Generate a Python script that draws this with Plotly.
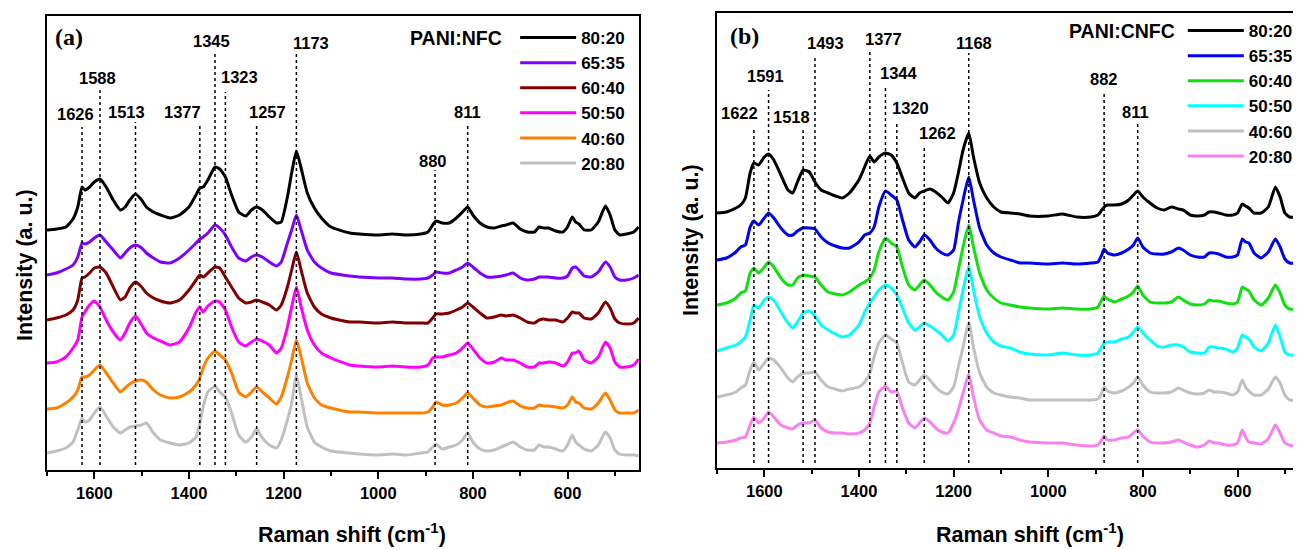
import plotly.graph_objects as go

W, H = 1301, 550
OFF = 8  # page body margin offset of the rendered figure (px)
FONT = "Liberation Sans, Arial, sans-serif"
SERIF = "Liberation Serif, Times New Roman, serif"

# ---------------- data ----------------
ratios = ["80:20", "65:35", "60:40", "50:50", "40:60", "20:80"]

# Panel (a) PANI:NFC  -- Raman shift (cm-1) and stacked intensities (a.u.)
xa = [1700, 1680, 1660, 1645, 1635, 1626, 1620, 1610, 1600, 1588, 1575, 1560, 1545, 1535, 1525,
      1513, 1500, 1490, 1475, 1460, 1440, 1420, 1400, 1385, 1377, 1370, 1360, 1345, 1335, 1323,
      1310, 1295, 1280, 1268, 1257, 1245, 1230, 1215, 1205, 1192, 1183, 1173, 1163, 1150, 1135,
      1120, 1100, 1060, 1040, 1000, 970, 940, 910, 895, 885, 878, 865, 850, 835, 822,
      811, 800, 785, 770, 755, 740, 730, 715, 700, 685, 670, 660, 650, 640, 625,
      610, 600, 590, 583, 576, 565, 550, 535, 520, 510, 500, 490, 475, 460, 450]

a_80_20 = [240, 241, 243, 251, 263, 283, 280, 283, 288, 291, 283, 270, 260, 263, 270,
           276, 270, 263, 258, 255, 252, 255, 263, 275, 282, 283, 290, 303, 301, 293,
           275, 258, 254, 260, 263, 260, 253, 247, 248, 273, 297, 319, 302, 277, 262,
           252, 243, 237, 236, 235, 236, 235, 236, 238, 245, 249, 247, 247, 252, 258,
           263, 255, 247, 243, 242, 244, 245, 247, 241, 238, 238, 243, 242, 242, 239,
           238, 243, 253, 248, 246, 240, 240, 248, 264, 255, 240, 235, 236, 238, 243]
a_65_35 = [195, 197, 201, 205, 213, 227, 226, 228, 232, 235, 228, 220, 212, 217, 222,
           225, 222, 217, 212, 208, 207, 212, 220, 227, 231, 233, 237, 245, 242, 235,
           223, 212, 209, 213, 215, 213, 208, 204, 208, 227, 240, 255, 240, 220, 208,
           202, 197, 194, 193, 192, 192, 191, 191, 192, 195, 198, 197, 197, 200, 203,
           207, 203, 197, 193, 193, 194, 195, 197, 192, 190, 191, 193, 193, 193, 192,
           192, 194, 202, 203, 200, 194, 193, 198, 208, 203, 193, 190, 190, 192, 195]
a_60_40 = [150, 152, 155, 160, 170, 192, 193, 197, 202, 203, 197, 183, 170, 173, 182,
           188, 183, 177, 172, 169, 167, 170, 180, 190, 195, 193, 197, 203, 202, 193,
           183, 172, 167, 168, 170, 168, 165, 160, 165, 183, 200, 218, 200, 177, 163,
           156, 152, 148, 148, 147, 148, 147, 147, 147, 152, 156, 156, 157, 160, 163,
           167, 163, 157, 152, 153, 155, 154, 155, 152, 148, 147, 150, 151, 150, 150,
           148, 152, 158, 157, 157, 152, 151, 157, 168, 162, 151, 147, 146, 147, 152]
a_50_50 = [107, 108, 113, 122, 130, 153, 158, 165, 169, 163, 150, 138, 130, 137, 147,
           154, 145, 137, 132, 129, 125, 128, 142, 158, 163, 158, 164, 169, 168, 160,
           143, 128, 124, 128, 131, 129, 125, 117, 122, 143, 163, 183, 163, 140, 125,
           117, 112, 105, 104, 103, 104, 103, 103, 105, 112, 113, 113, 115, 117, 122,
           127, 121, 112, 107, 108, 112, 110, 110, 107, 103, 103, 107, 107, 108, 107,
           104, 108, 117, 117, 119, 110, 107, 113, 128, 122, 108, 103, 103, 105, 111]
a_40_60 = [61, 62, 67, 73, 80, 93, 93, 95, 100, 105, 97, 87, 78, 82, 86,
           89, 90, 88, 80, 75, 72, 73, 78, 85, 92, 102, 112, 119, 115, 110,
           97, 78, 73, 78, 83, 78, 72, 66, 73, 93, 110, 130, 113, 87, 72,
           65, 62, 58, 58, 57, 57, 57, 57, 58, 63, 68, 65, 65, 67, 72,
           77, 72, 65, 63, 64, 65, 67, 69, 64, 62, 62, 65, 64, 64, 63,
           62, 65, 73, 68, 67, 62, 61, 67, 77, 70, 60, 57, 57, 57, 60]
a_20_80 = [17, 19, 22, 28, 40, 52, 48, 50, 57, 63, 54, 43, 37, 40, 43,
           44, 45, 47, 37, 30, 27, 25, 27, 33, 47, 63, 78, 84, 78, 73,
           57, 35, 28, 33, 41, 32, 25, 22, 30, 50, 67, 95, 73, 43, 28,
           23, 19, 17, 16, 15, 16, 15, 17, 18, 23, 26, 21, 23, 25, 30,
           37, 28, 21, 19, 20, 23, 25, 28, 23, 20, 20, 25, 23, 23, 21,
           19, 25, 35, 28, 25, 21, 19, 25, 38, 32, 20, 16, 15, 15, 14]

# Panel (b) PANI:CNFC
xb = [1700, 1680, 1660, 1650, 1640, 1630, 1622, 1612, 1600, 1591, 1580, 1565, 1550, 1540, 1530,
      1518, 1505, 1493, 1480, 1465, 1450, 1435, 1420, 1400, 1388, 1377, 1368, 1358, 1344, 1332,
      1320, 1308, 1295, 1282, 1272, 1262, 1250, 1238, 1225, 1212, 1200, 1190, 1180, 1168, 1158,
      1145, 1130, 1115, 1100, 1080, 1060, 1040, 1000, 970, 940, 910, 895, 887, 882, 875,
      860, 845, 830, 820, 811, 800, 785, 770, 755, 740, 725, 715, 700, 685, 670,
      660, 650, 640, 625, 610, 600, 590, 583, 576, 565, 550, 535, 520, 510, 500,
      490, 475, 466]

b_80_20 = [255, 256, 260, 263, 270, 295, 305, 303, 311, 314, 308, 293, 278, 275, 286,
           298, 296, 286, 278, 275, 272, 270, 275, 288, 301, 312, 306, 311, 315, 313,
           305, 290, 275, 270, 275, 277, 279, 276, 271, 265, 275, 295, 318, 335, 311,
           285, 270, 261, 256, 255, 254, 252, 252, 254, 251, 251, 253, 258, 261, 263,
           263, 264, 268, 273, 277, 271, 265, 260, 258, 261, 259, 258, 253, 252, 253,
           256, 256, 255, 253, 253, 255, 264, 262, 260, 255, 255, 261, 281, 271, 255,
           251, 251, 251]
b_65_35 = [208, 210, 216, 221, 223, 241, 247, 243, 250, 255, 250, 240, 233, 233, 237,
           240, 240, 239, 231, 225, 222, 220, 220, 226, 233, 235, 241, 261, 277, 273,
           268, 248, 228, 221, 226, 233, 228, 220, 215, 213, 218, 245, 268, 291, 268,
           240, 223, 215, 211, 208, 205, 205, 204, 205, 204, 205, 206, 213, 219, 215,
           213, 215, 219, 223, 230, 221, 215, 214, 214, 216, 220, 218, 213, 211, 211,
           215, 215, 214, 211, 211, 213, 229, 226, 225, 215, 210, 216, 229, 221, 209,
           205, 205, 205]
b_60_40 = [163, 165, 170, 175, 177, 195, 200, 195, 201, 206, 201, 190, 183, 183, 190,
           193, 192, 191, 183, 176, 174, 173, 176, 183, 186, 190, 198, 216, 230, 225,
           221, 201, 183, 178, 183, 188, 183, 176, 171, 168, 176, 198, 221, 243, 221,
           195, 178, 170, 165, 163, 161, 160, 159, 160, 159, 159, 161, 168, 172, 169,
           166, 169, 172, 176, 182, 173, 166, 165, 165, 166, 171, 168, 164, 163, 164,
           168, 167, 167, 165, 164, 166, 181, 179, 177, 168, 163, 170, 183, 175, 163,
           159, 159, 159]
b_50_50 = [117, 120, 123, 126, 131, 148, 163, 160, 168, 171, 168, 156, 145, 140, 146,
           155, 157, 152, 143, 138, 134, 131, 133, 143, 156, 165, 171, 178, 183, 180,
           173, 160, 145, 138, 141, 145, 142, 138, 133, 127, 133, 155, 178, 202, 178,
           151, 135, 126, 122, 120, 116, 114, 113, 115, 113, 113, 115, 121, 125, 126,
           126, 129, 131, 136, 141, 135, 128, 122, 121, 123, 123, 121, 116, 115, 115,
           121, 121, 120, 119, 116, 120, 133, 131, 129, 121, 117, 125, 143, 131, 116,
           113, 113, 113]
b_40_60 = [71, 73, 76, 80, 83, 98, 106, 98, 105, 110, 108, 100, 90, 86, 91,
           95, 95, 96, 88, 81, 79, 77, 79, 81, 86, 95, 111, 125, 133, 129,
           125, 105, 86, 83, 88, 93, 88, 81, 76, 74, 81, 101, 121, 146, 121,
           95, 81, 75, 73, 71, 70, 68, 68, 68, 68, 68, 69, 75, 81, 77,
           75, 77, 81, 85, 91, 83, 76, 75, 75, 76, 80, 78, 75, 74, 75,
           78, 76, 76, 75, 73, 76, 88, 81, 77, 73, 73, 79, 91, 85, 73,
           68, 68, 68]
b_20_80 = [25, 26, 28, 30, 31, 43, 51, 45, 50, 56, 51, 43, 40, 39, 43,
           45, 45, 48, 40, 36, 35, 35, 34, 35, 38, 45, 61, 76, 82, 76,
           77, 60, 45, 40, 45, 50, 46, 40, 36, 35, 45, 58, 75, 94, 71,
           48, 38, 35, 32, 31, 28, 26, 25, 25, 23, 22, 23, 28, 32, 28,
           28, 30, 31, 35, 38, 32, 26, 25, 25, 26, 28, 26, 23, 21, 23,
           27, 25, 25, 23, 23, 25, 38, 31, 26, 25, 24, 29, 43, 35, 25,
           23, 22, 22]

peaks_a = [1626, 1588, 1513, 1377, 1345, 1323, 1257, 1173, 880, 811]
peaks_b = [1622, 1591, 1518, 1493, 1377, 1344, 1320, 1262, 1168, 882, 811]

# ---------------- styling / placement ----------------
colors_a = ["#000000", "#8000FF", "#800000", "#FF00FF", "#FF8000", "#C0C0C0"]
colors_b = ["#000000", "#0000F0", "#10E010", "#00FFFF", "#C0C0C0", "#F880F0"]

# marker-line tops / label heights (axis units) and label x-shifts (px)
line_top_a = [343, 380, 348, 347, 417, 378, 345, 418, 300, 347]
label_y_a = [356, 392, 358, 358, 429, 393, 358, 427, 309, 358]
label_dx_a = [-7, -3, -9, -17, -3, 14, 11, 15, -2, 0]
line_top_b = [341, 378, 341, 413, 418, 380, 346, 320, 415, 376, 346]
label_y_b = [355, 392, 351, 425, 429, 395, 360, 335, 425, 389, 356]
label_dx_b = [-14, -3, -12, 11, 14, 14, 14, 13, 5, 0, -2]
line_bottom = 5

series_a = [a_80_20, a_65_35, a_60_40, a_50_50, a_40_60, a_20_80]
series_b = [b_80_20, b_65_35, b_60_40, b_50_50, b_40_60, b_20_80]

fig = go.Figure()

def add_panel(xs, series, colors, xref, yref, legend):
    for name, ys, c in zip(ratios, series, colors):
        fig.add_trace(go.Scatter(
            x=xs, y=ys, mode="lines", name="<b>%s</b>" % name,
            line=dict(color=c, width=3, shape="spline", smoothing=0.5),
            xaxis=xref, yaxis=yref, legend=legend, hoverinfo="skip"))

def add_peaks(peaks, tops, ys, dxs, xref, yref):
    lx, ly = [], []
    for p, t in zip(peaks, tops):
        lx += [p, p, None]
        ly += [line_bottom, t, None]
    fig.add_trace(go.Scatter(x=lx, y=ly, mode="lines", showlegend=False,
                             line=dict(color="black", width=1.5, dash="dot"),
                             xaxis=xref, yaxis=yref, hoverinfo="skip"))
    for p, yv, dx in zip(peaks, ys, dxs):
        fig.add_annotation(x=p, y=yv, xref=xref, yref=yref, xshift=dx,
                           xanchor="center", yanchor="middle",
                           text="<b>%d</b>" % p, showarrow=False,
                           font=dict(family=FONT, size=16.5, color="black"))

add_panel(xa, series_a, colors_a, "x", "y", "legend")
add_panel(xb, series_b, colors_b, "x2", "y2", "legend2")
add_peaks(peaks_a, line_top_a, label_y_a, label_dx_a, "x", "y")
add_peaks(peaks_b, line_top_b, label_y_b, label_dx_b, "x2", "y2")

def px(x):
    return (x - OFF) / W

def py(y):
    return 1 - (y - OFF) / H

xaxis_common = dict(
    showline=True, linecolor="black", linewidth=1.6, mirror=True,
    ticks="outside", ticklen=7, tickwidth=1.5, tickcolor="black",
    tick0=0, dtick=200, showgrid=False, zeroline=False, automargin=False,
    tickfont=dict(family=FONT, size=16.5, color="black", weight="bold"),
    minor=dict(tick0=0, dtick=100, ticks="outside", ticklen=4, tickwidth=1.5,
               tickcolor="black", showgrid=False),
)
yaxis_common = dict(showline=True, linecolor="black", linewidth=1.6,
                    ticks="", showticklabels=False, showgrid=False,
                    zeroline=False, automargin=False)

legend_common = dict(xanchor="left", yanchor="top", bgcolor="rgba(0,0,0,0)",
                     borderwidth=0, itemwidth=56, tracegroupgap=0,
                     font=dict(family=FONT, size=17, color="black"))
legend_title_font = dict(family=FONT, size=19.5, color="black")

fig.update_layout(
    width=W, height=H, template="none",
    margin=dict(l=0, r=0, t=0, b=0),
    paper_bgcolor="white", plot_bgcolor="white",
    xaxis=dict(xaxis_common, domain=[px(47), px(639)], range=[1700, 449], anchor="y"),
    xaxis2=dict(xaxis_common, domain=[px(717), 1.0], range=[1700, 449], anchor="y2"),
    yaxis=dict(yaxis_common, domain=[py(470), py(16)], range=[0, 454], anchor="x", mirror=True),
    yaxis2=dict(yaxis_common, domain=[py(468), py(13)], range=[0, 455], anchor="x2", mirror=False),
    legend=dict(legend_common, x=px(408), y=py(20),
                title=dict(text="<b>PANI:NFC</b>&nbsp;", side="left", font=legend_title_font)),
    legend2=dict(legend_common, x=px(1067), y=py(13),
                 title=dict(text="<b>PANI:CNFC</b>", side="left", font=legend_title_font)),
    showlegend=True,
)

title_font = dict(family=FONT, size=21.5, color="black")

def paper_text(x, y, text, font, angle=0):
    fig.add_annotation(x=px(x), y=py(y), xref="paper", yref="paper", showarrow=False,
                       xanchor="center", yanchor="middle", textangle=angle,
                       text=text, font=font)

paper_text(352, 533, "<b>Raman shift (cm<sup>-1</sup>)</b>", title_font)
paper_text(1030, 533, "<b>Raman shift (cm<sup>-1</sup>)</b>", title_font)
paper_text(25, 265, "<b>Intensity (a. u.)</b>", title_font, -90)
paper_text(691, 240, "<b>Intensity (a. u.)</b>", title_font, -90)
paper_text(69, 37, "<b>(a)</b>", dict(family=SERIF, size=24, color="black"))
paper_text(744, 36, "<b>(b)</b>", dict(family=SERIF, size=24, color="black"))

fig.write_html("out.html")
